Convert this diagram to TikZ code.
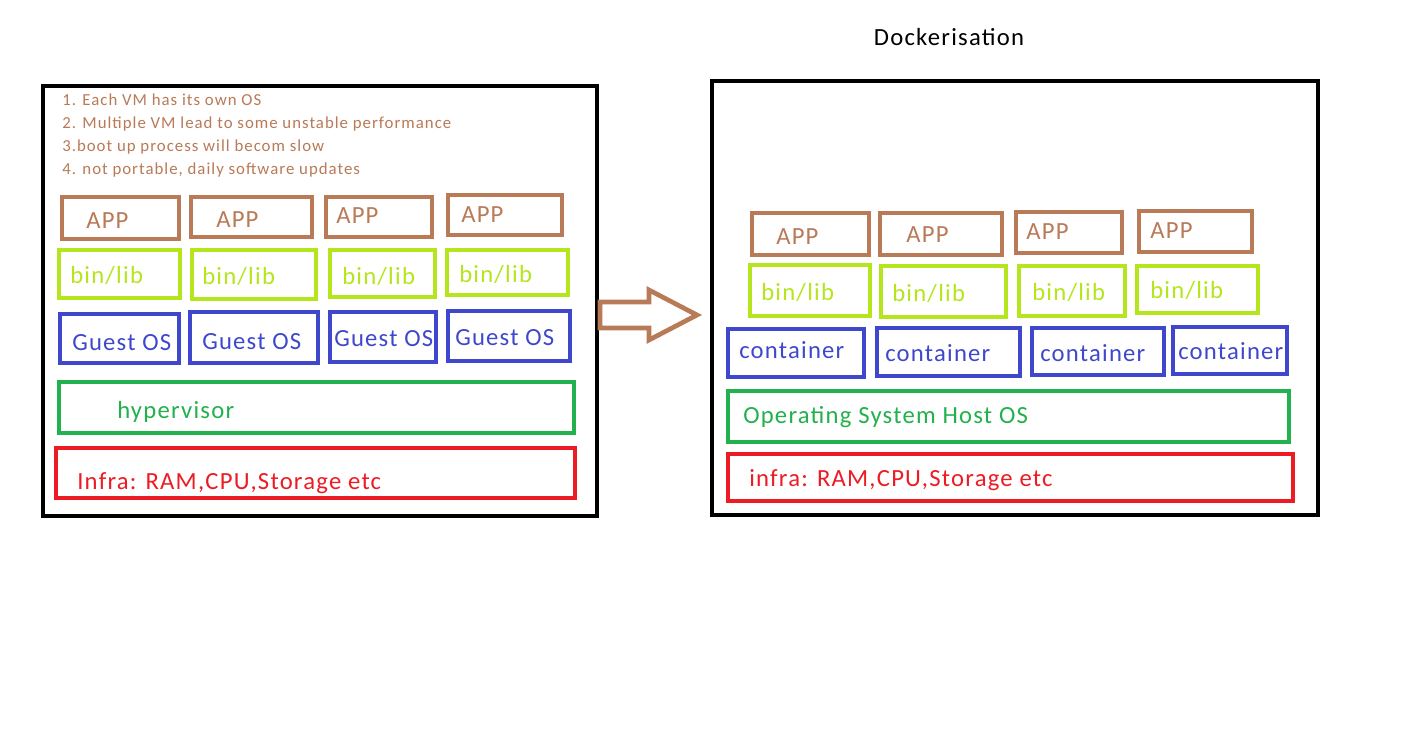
\documentclass[tikz,border=0pt]{standalone}
\usepackage{fontspec}
\setmainfont{Carlito}[LetterSpace=5]
\newfontfamily\notefont{Carlito}[LetterSpace=6]
\definecolor{pbrown}{HTML}{B97A57}
\definecolor{plime}{HTML}{B5E61D}
\definecolor{pblue}{HTML}{3F48CC}
\definecolor{pgreen}{HTML}{22B14C}
\definecolor{pred}{HTML}{ED1C24}
\begin{document}
\begin{tikzpicture}[x=0.75pt,y=-0.75pt,
  frame/.style={draw=black,line width=3pt},
  lay/.style={line width=3pt},
  lbl/.style={anchor=base west,inner sep=0pt,font=\fontsize{18.5pt}{20pt}\selectfont},
  note/.style={anchor=base west,inner sep=0pt,font=\notefont\fontsize{12.6pt}{14pt}\selectfont,text=pbrown}]
\useasboundingbox[fill=white] (0,0) rectangle (1404,734);
% ---------- left: VM ----------
\draw[frame] (43,86) rectangle (597,516);
\node[note] (n1) at (62,106) {1. Each VM has its own OS};
\node[note] (n2) at (62,129) {2. Multiple VM lead to some unstable performance};
\node[note] (n3) at (62,152) {3.boot up process will becom slow};
\node[note] (n4) at (62,175) {4. not portable, daily software updates};
% APP
\draw[lay,pbrown] (62,197) rectangle (179,239);
\draw[lay,pbrown] (191,197) rectangle (312,237);
\draw[lay,pbrown] (326,197) rectangle (432,237);
\draw[lay,pbrown] (448,195) rectangle (562,235);
\node[lbl,text=pbrown] (la1) at (86,229) {APP};
\node[lbl,text=pbrown] (la2) at (216,228) {APP};
\node[lbl,text=pbrown] (la3) at (336,224) {APP};
\node[lbl,text=pbrown] (la4) at (461,223) {APP};
% bin/lib
\draw[lay,plime] (59,250) rectangle (180,298);
\draw[lay,plime] (192,250) rectangle (316,299);
\draw[lay,plime] (330,250) rectangle (435,297);
\draw[lay,plime] (447,250) rectangle (568,295);
\node[lbl,text=plime] (lb1) at (70,284) {bin/lib};
\node[lbl,text=plime] (lb2) at (202,285) {bin/lib};
\node[lbl,text=plime] (lb3) at (342,285) {bin/lib};
\node[lbl,text=plime] (lb4) at (459,283) {bin/lib};
% Guest OS
\draw[lay,pblue] (60,314) rectangle (179,363);
\draw[lay,pblue] (190,312) rectangle (318,363);
\draw[lay,pblue] (330,312) rectangle (436,362);
\draw[lay,pblue] (448,311) rectangle (570,361);
\node[lbl,text=pblue] (lg1) at (72,351) {Guest OS};
\node[lbl,text=pblue] (lg2) at (202,350) {Guest OS};
\node[lbl,text=pblue] (lg3) at (334,347) {Guest OS};
\node[lbl,text=pblue] (lg4) at (455,346) {Guest OS};
% hypervisor
\draw[lay,pgreen] (59,382) rectangle (574,433);
\node[lbl,text=pgreen] (hv) at (117,419) {hypervisor};
% infra
\draw[lay,pred] (56,448) rectangle (575,498);
\node[lbl,text=pred] (inf1) at (77,489) {Infra: RAM,CPU,Storage etc};
% ---------- arrow ----------
\draw[pbrown,line width=3.5pt,line join=miter]
  (600,302) -- (649,302) -- (649,290) -- (697,315) -- (649,340) -- (649,328) -- (600,328) -- cycle;
% ---------- right: Docker ----------
\node[anchor=base,inner sep=0pt,font=\fontsize{18.5pt}{20pt}\selectfont] (title) at (949,46) {Dockerisation};
\draw[frame] (712,81) rectangle (1318,515);
% APP
\draw[lay,pbrown] (752,213) rectangle (869,255);
\draw[lay,pbrown] (880,213) rectangle (1002,255);
\draw[lay,pbrown] (1016,212) rectangle (1122,253);
\draw[lay,pbrown] (1139,211) rectangle (1252,252);
\node[lbl,text=pbrown] (ra1) at (776,245) {APP};
\node[lbl,text=pbrown] (ra2) at (906,243) {APP};
\node[lbl,text=pbrown] (ra3) at (1026,240) {APP};
\node[lbl,text=pbrown] (ra4) at (1150,239) {APP};
% bin/lib
\draw[lay,plime] (750,265) rectangle (870,316);
\draw[lay,plime] (881,266) rectangle (1006,317);
\draw[lay,plime] (1019,266) rectangle (1125,316);
\draw[lay,plime] (1137,266) rectangle (1258,313);
\node[lbl,text=plime] (rb1) at (761,301) {bin/lib};
\node[lbl,text=plime] (rb2) at (892,302) {bin/lib};
\node[lbl,text=plime] (rb3) at (1032,301) {bin/lib};
\node[lbl,text=plime] (rb4) at (1150,299) {bin/lib};
% container
\draw[lay,pblue] (728,329) rectangle (864,377);
\draw[lay,pblue] (877,328) rectangle (1020,376);
\draw[lay,pblue] (1032,328) rectangle (1164,375);
\draw[lay,pblue] (1173,327) rectangle (1287,374);
\node[lbl,text=pblue] (rc1) at (739,359) {container};
\node[lbl,text=pblue] (rc2) at (885,362) {container};
\node[lbl,text=pblue] (rc3) at (1040,362) {container};
\node[lbl,text=pblue] (rc4) at (1178,360) {container};
% host OS
\draw[lay,pgreen] (728,391) rectangle (1289,442);
\node[lbl,text=pgreen] (hos) at (743,424) {Operating System Host OS};
% infra
\draw[lay,pred] (728,454) rectangle (1293,501);
\node[lbl,text=pred] (inf2) at (749,486) {infra: RAM,CPU,Storage etc};
\end{tikzpicture}
\end{document}
